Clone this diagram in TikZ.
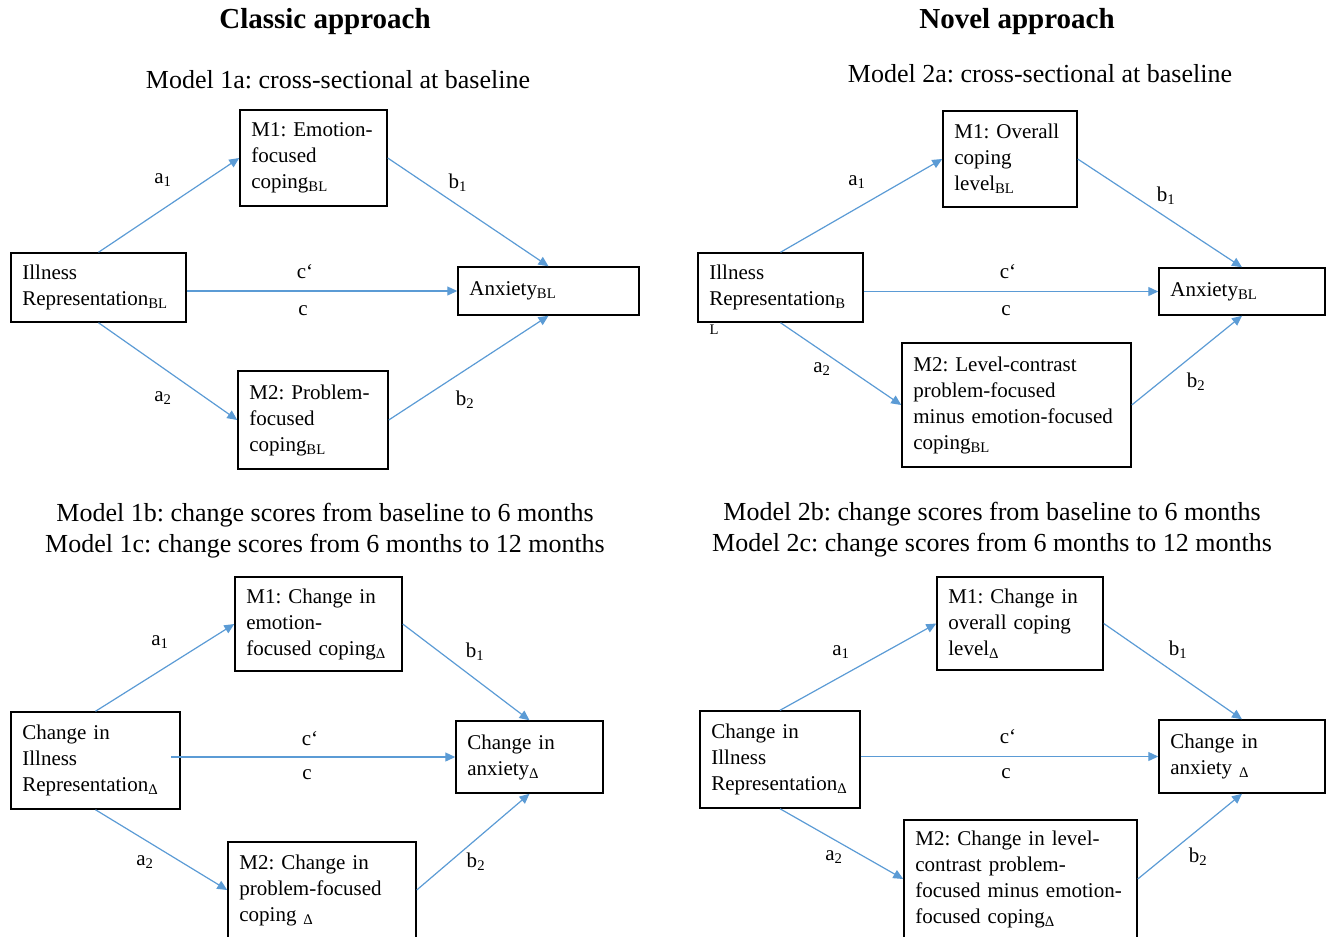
\documentclass[tikz,border=0pt]{standalone}
\usepackage{fontspec}
\setmainfont{Liberation Serif}
\usetikzlibrary{arrows.meta}
\frenchspacing
\newcommand\bxfont{\fontsize{15.75pt}{19.5pt}\selectfont}
\newcommand\hdfont{\fontsize{19.5pt}{23.25pt}\selectfont}
\newcommand\ttlfont{\fontsize{21.75pt}{26pt}\selectfont\bfseries}
\newcommand\sbs[1]{\textsubscript{#1}}
\definecolor{arrblue}{RGB}{91,155,213}
\tikzset{
  bx/.style={draw=black, line width=1.1pt, inner xsep=8.5pt, inner ysep=2pt, font=\bxfont, align=left},
  lbl/.style={font=\bxfont, inner sep=0pt},
  arr/.style={draw=arrblue, line width=0.9pt, -{Triangle[length=7.5pt,width=6.75pt]}},
  hd/.style={font=\hdfont, align=center, inner sep=0pt},
  ttl/.style={font=\ttlfont, inner sep=0pt}
}
\begin{document}
\begin{tikzpicture}[x=0.75pt,y=-0.75pt]
\useasboundingbox (0,0) rectangle (1326,936);
\clip (0,0) rectangle (1326,936);
% titles
\node[ttl] (t1) at (325,22) {Classic approach};
\node[ttl] (t2) at (1017,22) {Novel approach};
\node[hd] (h1) at (338,80) {Model 1a: cross-sectional at baseline};
\node[hd] (h2) at (1040,74) {Model 2a: cross-sectional at baseline};
\node[hd] (h3) at (325,531) {Model 1b: change scores from baseline to 6 months\\Model 1c: change scores from 6 months to 12 months};
\node[hd] (h4) at (992,530) {Model 2b: change scores from baseline to 6 months\\Model 2c: change scores from 6 months to 12 months};

% ---------- top left
\node[bx, minimum width=131.25pt, minimum height=51.75pt, text width=114.25pt] (ir1) at (98.5,287.5) {Illness\\Representation\sbs{BL}};
\node[bx, minimum width=110.25pt, minimum height=72pt, text width=93.25pt] (m11) at (313.5,158) {M1: Emotion-\\focused\\coping\sbs{BL}};
\node[bx, minimum width=112.5pt, minimum height=73.5pt, text width=95.5pt] (m21) at (313,420) {M2: Problem-\\focused\\coping\sbs{BL}};
\node[bx, minimum width=135.75pt, minimum height=36pt, text width=118.75pt] (an1) at (548.5,291) {Anxiety\sbs{BL}};
\draw[arr] (ir1.north) -- (m11.west);
\draw[arr] (m11.east) -- (an1.north);
\draw[arr] (ir1.east |- an1.west) -- (an1.west);
\draw[arr] (ir1.south) -- (m21.west);
\draw[arr] (m21.east) -- (an1.south);
\node[lbl] (la11) at (163,180) {a\sbs{1}};
\node[lbl] (lb11) at (458,183) {b\sbs{1}};
\node[lbl] (lcp1) at (305,272) {c‘};
\node[lbl] (lc1) at (303,311) {c};
\node[lbl] (la21) at (163,398) {a\sbs{2}};
\node[lbl] (lb21) at (465,400) {b\sbs{2}};

% ---------- top right
\node[bx, minimum width=123.75pt, minimum height=51.75pt, text width=106.75pt] (ir2) at (780.5,287.5) {Illness\\Representation\sbs{B}};
\node[font=\fontsize{11pt}{12pt}\selectfont, inner sep=0pt] (ll2) at (714,330) {L};
\node[bx, minimum width=100.5pt, minimum height=72pt, text width=83.5pt] (m12) at (1010,159) {M1: Overall\\coping\\level\sbs{BL}};
\node[bx, minimum width=171.75pt, minimum height=93pt, text width=154.75pt] (m22) at (1016.5,405) {M2: Level-contrast\\problem-focused\\minus emotion-focused\\coping\sbs{BL}};
\node[bx, minimum width=124.5pt, minimum height=35.25pt, text width=107.5pt] (an2) at (1242,291.5) {Anxiety\sbs{BL}};
\draw[arr] (ir2.north) -- (m12.west);
\draw[arr] (m12.east) -- (an2.north);
\draw[arr] (ir2.east |- an2.west) -- (an2.west);
\draw[arr] (ir2.south) -- (m22.west);
\draw[arr] (m22.east) -- (an2.south);
\node[lbl] (la12) at (857,182) {a\sbs{1}};
\node[lbl] (lb12) at (1166,196) {b\sbs{1}};
\node[lbl] (lcp2) at (1008,272) {c‘};
\node[lbl] (lc2) at (1006,311) {c};
\node[lbl] (la22) at (822,369) {a\sbs{2}};
\node[lbl] (lb22) at (1196,382) {b\sbs{2}};

% ---------- bottom left
\node[bx, minimum width=126.75pt, minimum height=72.75pt, text width=109.75pt] (ir3) at (95.5,760.5) {Change in\\Illness\\Representation\sbs{Δ}};
\node[bx, minimum width=125.25pt, minimum height=70.5pt, text width=108.25pt] (m13) at (318.5,624) {M1: Change in\\emotion-\\focused coping\sbs{Δ}};
\node[bx, minimum width=141pt, minimum height=72pt, text width=124pt] (m23) at (322,890) {M2: Change in\\problem-focused\\coping \sbs{Δ}};
\node[bx, minimum width=110.25pt, minimum height=54pt, text width=93.25pt] (an3) at (529.5,757) {Change in\\anxiety\sbs{Δ}};
\draw[arr] (ir3.north) -- (m13.west);
\draw[arr] (m13.east) -- (an3.north);
\draw[arr] ([xshift=-7pt]ir3.east |- an3.west) -- (an3.west);
\draw[arr] (ir3.south) -- (m23.west);
\draw[arr] (m23.east) -- (an3.south);
\node[lbl] (la13) at (160,642) {a\sbs{1}};
\node[lbl] (lb13) at (475,652) {b\sbs{1}};
\node[lbl] (lcp3) at (310,739) {c‘};
\node[lbl] (lc3) at (307,775) {c};
\node[lbl] (la23) at (145,862) {a\sbs{2}};
\node[lbl] (lb23) at (476,862) {b\sbs{2}};

% ---------- bottom right
\node[bx, minimum width=120pt, minimum height=72.75pt, text width=103pt] (ir4) at (780,759.5) {Change in\\Illness\\Representation\sbs{Δ}};
\node[bx, minimum width=124.5pt, minimum height=69.75pt, text width=107.5pt] (m14) at (1020,623.5) {M1: Change in\\overall coping\\level\sbs{Δ}};
\node[bx, minimum width=174.75pt, minimum height=88.5pt, text width=157.75pt] (m24) at (1020.5,879) {M2: Change in level-\\contrast problem-\\focused minus emotion-\\focused coping\sbs{Δ}};
\node[bx, minimum width=124.5pt, minimum height=54.75pt, text width=107.5pt] (an4) at (1242,756.5) {Change in\\anxiety \sbs{Δ}};
\draw[arr] (ir4.north) -- (m14.west);
\draw[arr] (m14.east) -- (an4.north);
\draw[arr] (ir4.east |- an4.west) -- (an4.west);
\draw[arr] (ir4.south) -- (m24.west);
\draw[arr] (m24.east) -- (an4.south);
\node[lbl] (la14) at (841,652) {a\sbs{1}};
\node[lbl] (lb14) at (1178,650) {b\sbs{1}};
\node[lbl] (lcp4) at (1008,737) {c‘};
\node[lbl] (lc4) at (1006,774) {c};
\node[lbl] (la24) at (834,857) {a\sbs{2}};
\node[lbl] (lb24) at (1198,857) {b\sbs{2}};
\end{tikzpicture}
\end{document}
